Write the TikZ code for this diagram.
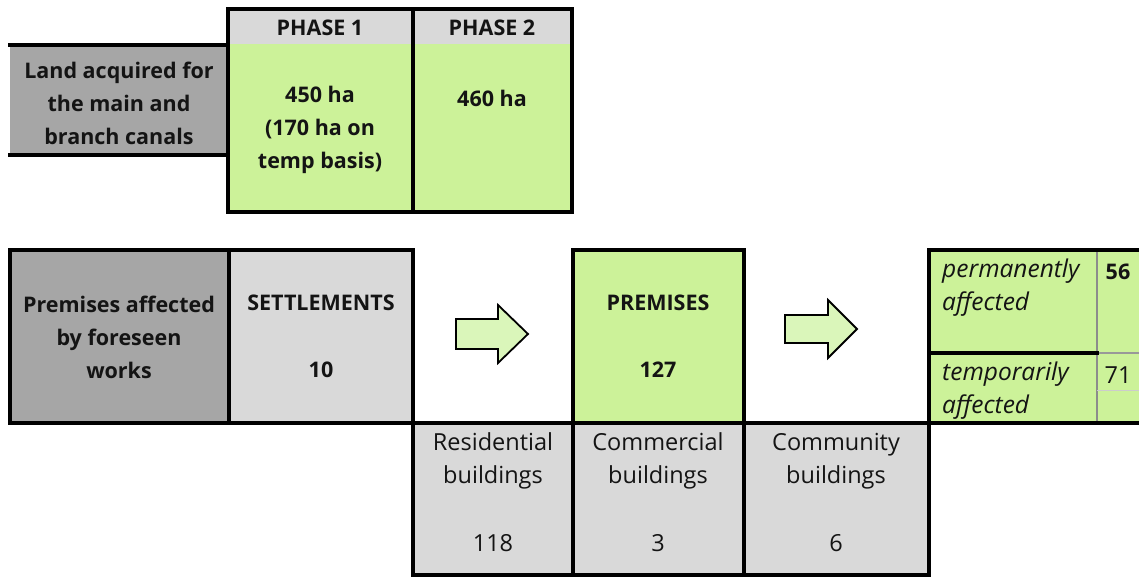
\documentclass[tikz,border=0pt]{standalone}
\usepackage{fontspec}
\setmainfont{Open Sans}
\definecolor{dgray}{RGB}{166,166,166}
\definecolor{lgray}{RGB}{217,217,217}
\definecolor{lgreen}{RGB}{204,242,153}
\definecolor{agreen}{RGB}{218,246,186}
\definecolor{txtc}{RGB}{20,20,20}
\begin{document}
\begin{tikzpicture}[x=1pt,y=-1pt,
  bord/.style={line width=3.6pt,draw=black,line cap=rect},
  lbl/.style={inner sep=0pt,text=txtc,font=\fontsize{23.5}{33}\selectfont,align=center},
  blbl/.style={lbl,font=\fontsize{21.5}{33}\selectfont\bfseries},
  ilbl/.style={lbl,font=\fontsize{24.5}{33}\selectfont\itshape,align=left},
  arrowbox/.style={fill=agreen,draw=black,line width=1.8pt,line join=miter}]
\useasboundingbox (0,0) rectangle (1139,578);
% ---------- top table fills
\fill[dgray] (10,45) rectangle (228,155);
\fill[lgreen] (228,9) rectangle (572,212);
\fill[lgray] (228,9) rectangle (572,44);
% borders
\draw[bord] (10,45) -- (228,45);
\draw[bord] (10,155) -- (228,155);
\draw[bord] (228,9) rectangle (572,212);
\draw[bord] (413,9) -- (413,212);
\node[blbl] (land) at (119,103) {Land acquired for\\the main and\\branch canals};
\node[blbl] (ph1) at (320,28) {PHASE 1};
\node[blbl] (ph2) at (492,28) {PHASE 2};
\node[blbl] (v1) at (320,130) {450 ha\\(170 ha on\\temp basis)};
\node[blbl] (v2) at (492,98) {460 ha};
% ---------- bottom row fills
\fill[dgray] (10,250) rectangle (229,423);
\fill[lgray] (229,250) rectangle (413,423);
\fill[lgreen] (573,250) rectangle (744,423);
\fill[lgreen] (929,250) rectangle (1139,423);
\fill[lgray] (413,423) rectangle (929,575);
% light column divider in the right table
\draw[line width=1.2pt,draw=black!45] (1097,250) -- (1097,423);
\draw[line width=0.8pt,draw=black!20] (1097,390) -- (1139,390);
\draw[line width=1.5pt,draw=black!40] (1097,353) -- (1139,353);
% borders
\draw[bord] (10,250) rectangle (413,423);
\draw[bord] (229,250) -- (229,423);
\draw[bord] (573,250) rectangle (744,423);
\draw[bord] (1139,250) -- (929,250) -- (929,423);
\draw[bord] (929,353) -- (1097,353);
\draw[bord] (10,423) -- (1139,423);
\draw[bord] (413,423) rectangle (929,575);
\draw[bord] (573,423) -- (573,575);
\draw[bord] (744,423) -- (744,575);
% arrows
\draw[arrowbox] (456,319) -- (498,319) -- (498,305) -- (528,334) -- (498,363) -- (498,349) -- (456,349) -- cycle;
\draw[arrowbox] (785,315) -- (828,315) -- (828,300) -- (857,329) -- (828,358) -- (828,343) -- (785,343) -- cycle;
% texts bottom
\node[blbl] (prem) at (119,337) {Premises affected\\by foreseen\\works};
\node[blbl] (sett) at (321,303) {SETTLEMENTS};
\node[blbl] (settn) at (321,370) {10};
\node[blbl] (pr) at (658,303) {PREMISES};
\node[blbl] (prn) at (658,370) {127};
\node[ilbl,anchor=west] (perm) at (942,288) {permanently\\affected};
\node[blbl] (permn) at (1118,272) {56};
\node[ilbl,anchor=west] (temp) at (942,391) {temporarily\\affected};
\node[lbl] (tempn) at (1118,375) {71};
\node[lbl] (res) at (493,461) {Residential\\buildings};
\node[lbl] (resn) at (493,543) {118};
\node[lbl] (com) at (658,461) {Commercial\\buildings};
\node[lbl] (comn) at (658,543) {3};
\node[lbl] (cmy) at (836,461) {Community\\buildings};
\node[lbl] (cmyn) at (836,543) {6};
\end{tikzpicture}
\end{document}
